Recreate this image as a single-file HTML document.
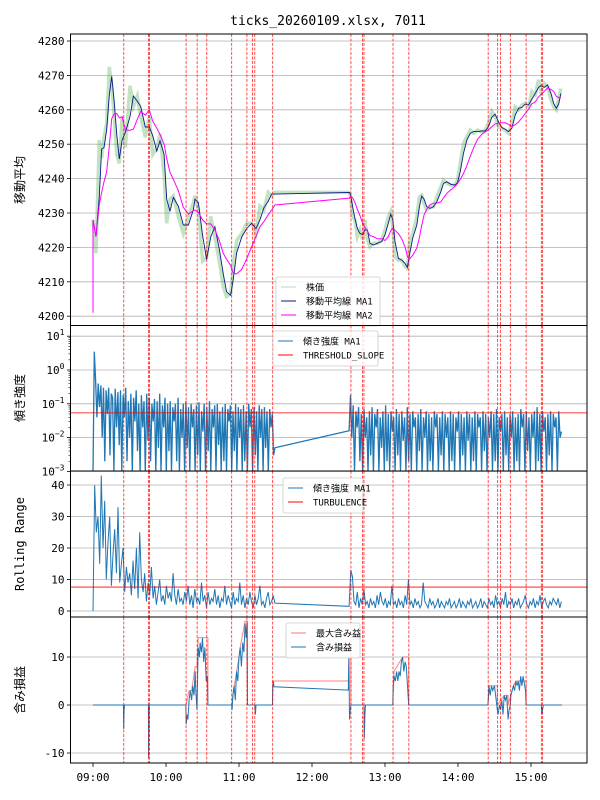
<!DOCTYPE html>
<html><head><meta charset="utf-8"><style>
body{margin:0;background:#fff;}
svg{display:block;font-family:"DejaVu Sans Mono","Liberation Mono","Noto Sans CJK JP",monospace;}
</style></head><body>
<svg id="chart" width="600" height="800" xmlns="http://www.w3.org/2000/svg"></svg>
<script>
// ---------- data ----------
const priceTimes=[0,2.5,5.2,7.1,9.0,11.2,13.4,15.4,17.3,19.5,21.6,23.9,26.6,30.4,33.2,36.4,39.2,43.0,46.3,49.1,52.4,55.1,58.4,60.6,63.3,66.0,70.1,74.2,78.4,82.5,83.8,86.6,90.1,93.4,96.7,100.2,103.8,107.1,109.8,113.1,115.3,118.1,122.2,126.3,130.4,134.0,137.2,140.5,144.1,146.8,149.5,
210.7,211.7,213.4,215.3,217.2,219.4,221.6,223.5,225.5,227.7,230.4,233.7,237.3,240.0,242.7,244.7,246.3,248.2,251.0,253.7,256.5,258.4,260.0,262.8,266.1,268.3,270.2,272.1,274.3,277.1,279.8,282.6,285.9,288.1,290.8,294.1,297.6,299.6,301.8,304.5,307.3,310.0,312.8,316.0,319.6,322.3,325.1,327.8,330.5,333.3,336.0,338.8,341.5,344.3,347.0,349.8,352.5,355.2,358.0,360.7,363.5,366.2,368.1,370.9,373.6,376.4,378.6,380.8,382.7,384.6];
const priceValues=[4228,4218.3,4251.2,4246,4252,4256,4272.5,4267,4259,4247,4244.4,4258,4249,4267,4261,4264,4258,4252,4258,4247,4249,4253,4241,4227,4234,4235,4229,4224,4229,4233,4235,4231,4216,4217,4229,4223,4216,4208.5,4205.7,4206.5,4215,4222,4224,4227,4227,4224,4232,4231,4236,4235,4236,
4236,4234.7,4228.9,4228,4223.1,4225.1,4222.2,4228,4222.2,4220.2,4221.2,4221.2,4222.2,4225.1,4228.9,4230.4,4226,4217.3,4216.3,4216.3,4214.4,4213.9,4221.2,4224.1,4228.9,4234.7,4235.2,4232.8,4230.9,4231.8,4231.8,4234.7,4237.6,4239.6,4238.6,4238.1,4238.1,4239.6,4244.4,4250.3,4252.2,4254.1,4253.2,4254.1,4253.6,4254.1,4256.1,4259.5,4258,4255.1,4254.6,4254.1,4253.2,4256.1,4260.9,4260,4261.4,4261.9,4260.9,4265.3,4264.3,4268.7,4265.3,4267.7,4266.7,4262.9,4260.9,4260,4263.3,4266.2];
const priceTicks=[4200,4210,4220,4230,4240,4250,4260,4270,4280];
const signalTimes=[25.3,45.6,46.5,76.5,85.6,93.5,114,126.5,131,133,147.7,212,221.5,222.7,246.6,259.6,324.8,332.6,335,343,356,368.5,369.4];
const slopeAM=[0.001,3.5,0.5,0.04,0.4,0.08,0.35,0.01,0.3,0.002,0.25,0.05,0.3,0.003,0.2,0.15,0.001,0.28,0.02,0.22,0.006,0.25,0.001,0.18,0.04,0.3,0.002,0.12,0.01,0.2,0.001,0.15,0.03,0.25,0.004,0.1,0.001,0.18,0.02,0.12,0.001,0.2,0.008,0.15,0.002,0.1,0.03,0.14,0.001,0.12,0.005,0.2,0.001,0.09,0.02,0.15,0.001,0.1,0.004,0.12,0.001,0.08,0.03,0.1,0.002,0.15,0.001,0.07,0.01,0.1,0.001,0.12,0.005,0.08,0.001,0.1,0.02,0.07,0.001,0.09,0.003,0.11,0.001,0.06,0.015,0.1,0.001,0.08,0.004,0.12,0.001,0.07,0.02,0.09,0.001,0.1,0.006,0.06,0.001,0.08,0.002,0.1,0.001,0.07,0.03,0.09,0.001,0.06,0.004,0.1,0.001,0.08,0.01,0.07,0.001,0.09,0.002,0.06,0.001,0.1,0.02,0.07,0.001,0.08,0.003,0.06,0.001,0.09,0.01,0.07,0.001,0.08,0.005,0.06,0.001,0.07,0.02,0.05,0.003,0.005];
const slopePM=[0.016,0.18,0.01,0.09,0.001,0.06,0.02,0.08,0.002,0.05,0.001,0.07,0.01,0.04,0.001,0.06,0.003,0.08,0.001,0.05,0.02,0.07,0.001,0.04,0.005,0.06,0.001,0.09,0.002,0.05,0.001,0.06,0.015,0.04,0.001,0.07,0.003,0.05,0.001,0.06,0.008,0.04,0.001,0.08,0.002,0.05,0.001,0.06,0.02,0.04,0.001,0.05,0.004,0.07,0.001,0.04,0.01,0.06,0.001,0.05,0.002,0.04,0.001,0.06,0.02,0.05,0.001,0.04,0.003,0.06,0.001,0.05,0.01,0.04,0.001,0.06,0.002,0.05,0.001,0.04,0.015,0.06,0.001,0.05,0.003,0.04,0.001,0.06,0.008,0.05,0.001,0.04,0.002,0.06,0.001,0.05,0.02,0.04,0.001,0.06,0.004,0.05,0.001,0.04,0.01,0.06,0.001,0.05,0.002,0.07,0.001,0.04,0.015,0.05,0.001,0.06,0.003,0.04,0.001,0.05,0.01,0.06,0.001,0.04,0.002,0.05,0.001,0.07,0.02,0.05,0.001,0.06,0.004,0.04,0.001,0.05,0.01,0.06,0.001,0.08,0.002,0.05,0.001,0.06,0.015,0.04,0.001,0.05,0.003,0.06,0.001,0.05,0.02,0.04,0.001,0.06,0.01,0.015];
const thresholdSlope=0.054;
const rangeAM=[0,40,25,30,15,43,20,35,10,22,30,8,18,26,12,33,9,15,20,6,14,9,12,5,16,7,20,4,25,10,6,12,3,9,5,14,4,8,2,6,10,3,5,2,8,4,6,3,12,5,2,7,3,4,2,6,3,8,2,5,1,7,3,4,2,9,3,5,1,6,2,4,3,7,2,5,1,4,3,8,2,5,3,1,6,2,4,3,9,2,5,1,4,2,6,3,1,5,2,4,8,2,3,1,4,6,2,3,5,2.5];
const rangePM=[1.5,13,11,3,2,6,1,4,2,7,2,3,1,4,2,3,1,5,2,6,3,2,4,1,3,2,8,2,3,1,4,2,3,1,5,2,10,2,3,1,4,2,3,1,2,9,3,2,1,4,2,3,1,2,4,1,3,2,1,3,2,4,1,2,3,1,2,4,1,3,2,1,3,2,4,1,2,3,1,2,4,1,3,2,1,4,2,3,1,5,2,3,1,4,2,6,1,3,2,4,1,3,2,4,1,2,3,5,2,1,3,2,4,1,3,2,5,1,3,4,2,1,3,2,4,3,2,4,1,3];
const turbulence=7.6;
const pnlT=[0,25,25.2,25.6,26,45.5,45.7,46,46.3,76.3,76.6,77.5,78,79,80,81,82,83,84,84.5,85.5,86,86.5,87.5,88,89,90,91,92,93,94,94.4,114,114.3,115,116,117,118,119,120,121,122,123,124,125,125.8,126.5,127,133,133.5,134,147.5,147.8,148.3,148.8,209.8,210.3,210.8,211.5,212,222.7,223,223.5,224,246.4,246.7,247.5,248.5,249.5,250.5,251.5,252.5,253.5,254.5,255.5,256.5,257.5,259.5,324.6,324.9,325.5,326.5,327.5,328.5,330,332.3,333,334,335,336,337,338,339,340,341.2,342,343,343.5,344.5,345.5,346.5,347.5,348.5,349.5,350.5,351.5,352.5,353.5,355.5,356,368.5,369,369.8,370.3,385.5];
const pnlV=[0,0,-5,-1,0,0,-11,-3,0,0,-4,-2,-3,1,3,1,4,2,7,3,-1,6,12,10,13,11,14,9,12,5,6,0,0,-1,2,4,1,7,5,10,12,8,13,11,17,14,17,0,0,-2,0,0,4,5,3.8,3.1,10,-3,-1,0,0,-7,-2,0,0,4,6,5,7,5,7,6,9,10,7,9,8,0,0,1,4,2,4,3,4,-1,-2,0,-1,1,-2,2,1,2,-3,-1,0,2,3,4,3,5,4,5,3,6,4,6,3,0,0,-2,-0.5,0,0];
const maxT=[0,76.5,79,81,84,85.5,86.5,94.4,94.4,114,115,118,120,121,125,127,127,147.5,147.8,209.8,210.3,212,212,246.4,247.5,254.5,259.5,259.5,324.6,325.5,332.3,332.3,338,341.2,341.2,343.5,345.5,347.5,356,356,385.5];
const maxV=[0,0,3,3,8,8,14,14,0,0,2,7,10,12,17.5,17.5,0,0,5,5,10,10,0,0,7,10,10,0,0,4,4,0,2,2,0,2,4,5,5,0,0];
const xTickLabels=["09:00","10:00","11:00","12:00","13:00","14:00","15:00"];

// ---------- helpers ----------
const NS="http://www.w3.org/2000/svg";
const svg=document.getElementById('chart');
function el(tag,attrs,parent){const e=document.createElementNS(NS,tag);for(const k in attrs)e.setAttribute(k,attrs[k]);(parent||svg).appendChild(e);return e;}
const X0=70.5,X1=587;
const xs=t=>93+t*73/60;
const P1={top:34,bot:325.5},P2={top:325.5,bot:471},P3={top:471,bot:617},P4={top:617,bot:763};
const y1=v=>41+(4280-v)*3.44;
const y2=v=>370-Math.log10(Math.max(v,1e-4))*33.8;
const y3=v=>611-v*3.15;
const y4=v=>705-v*4.8;
function lin(a,n0,n1){const r=[];for(let i=0;i<a;i++)r.push(n0+(n1-n0)*i/(a-1));return r;}
function path(xsA,ysA){return xsA.map((x,i)=>(i?'L':'M')+x.toFixed(1)+','+ysA[i].toFixed(1)).join('');}
function clip(id,p){const c=el('clipPath',{id:id});el('rect',{x:X0,y:p.top,width:X1-X0,height:p.bot-p.top},c);}

let t=el('text',{x:328,y:25,'text-anchor':'middle','font-size':13});t.textContent='ticks_20260109.xlsx, 7011';


[['c1',P1],['c2',P2],['c3',P3],['c4',P4]].forEach(([id,p])=>clip(id,p));

function grid(p,ticks,yf,labels,name){
  const g=el('g',{});
  
  ticks.forEach((v,i)=>{const y=yf(v);
    el('line',{x1:X0,x2:X1,y1:y,y2:y,stroke:'#b0b0b0','stroke-width':0.8},g);
    el('line',{x1:X0-3.5,x2:X0,y1:y,y2:y,stroke:'#000','stroke-width':0.8},g);
    const tx=el('text',{x:X0-6,y:y+4,'text-anchor':'end','font-size':11},g);
    if(labels)tx.innerHTML=labels[i];else tx.textContent=v;
  });
}
function vlines(p){
  signalTimes.forEach(s=>{const x=xs(s);
    const l=el('line',{x1:x,x2:x,y1:p.top,y2:p.bot,stroke:'#ff0000','stroke-width':0.8,'stroke-dasharray':'3,1.5',opacity:0.85},svg);
    
  });
}
function frame(p,name){const r=el('rect',{x:X0,y:p.top,width:X1-X0,height:p.bot-p.top,fill:'none',stroke:'#000','stroke-width':1});
  }
function ylabel(txt,y,name){const tx=el('text',{x:0,y:0,transform:`translate(24,${y}) rotate(-90)`,'text-anchor':'middle','font-size':12});tx.textContent=txt;
  }
function legend(x,y,w,items,name){const g=el('g',{});
  el('rect',{x:x,y:y,width:w,height:items.length*14+7,rx:2,fill:'#fff','fill-opacity':0.85,stroke:'#ccc','stroke-width':0.8},g);
  items.forEach((it,i)=>{const yy=y+10+i*14;el('line',{x1:x+5,x2:x+20,y1:yy,y2:yy,stroke:it[1],'stroke-width':1,opacity:it[2]||1},g);
    const tx=el('text',{x:x+30,y:yy+3.5,'font-size':9},g);tx.textContent=it[0];});}

// ---------- panel 1 ----------
grid(P1,priceTicks,y1,null,'price');
function ma(vals,w){return vals.map((v,i)=>{const s=vals.slice(Math.max(0,i-w+1),i+1);return s.reduce((a,b)=>a+b,0)/s.length;});}
const ma1=ma(priceValues,2), ma2=ma(priceValues,6);
const pxs=priceTimes.map(xs);
let g1=el('g',{'clip-path':'url(#c1)'});
let pe=el('path',{d:path(pxs,priceValues.map(y1)),fill:'none',stroke:'#4caf50','stroke-opacity':0.35,'stroke-width':3.5},g1);

pe=el('path',{d:path(pxs,ma1.map(y1)),fill:'none',stroke:'#0a1a8c','stroke-width':0.9},g1);

pe=el('path',{d:path([xs(0)].concat(pxs),[y1(4201)].concat(ma2.map(y1))),fill:'none',stroke:'#ff00ff','stroke-width':1},g1);

vlines(P1);frame(P1,'price-panel');
ylabel('移動平均',180,'price-y-title');
legend(276,277,104,[['株価','#4caf50',0.4],['移動平均線 MA1','#0a1a8c'],['移動平均線 MA2','#ff00ff']],'price-legend');

// ---------- panel 2 ----------
grid(P2,[10,1,0.1,0.01,0.001],y2,['10<tspan dy="-5" font-size="8">1</tspan>','10<tspan dy="-5" font-size="8">0</tspan>','10<tspan dy="-5" font-size="8">−1</tspan>','10<tspan dy="-5" font-size="8">−2</tspan>','10<tspan dy="-5" font-size="8">−3</tspan>'],'slope');
for(let d=-3;d<1;d++)for(let m=2;m<10;m++){const y=y2(m*Math.pow(10,d));el('line',{x1:X0-2,x2:X0,y1:y,y2:y,stroke:'#000','stroke-width':0.6});}
const sT=lin(slopeAM.length,0,149.5).concat(lin(slopePM.length,210.5,385));
const sV=slopeAM.concat(slopePM);
let g2=el('g',{'clip-path':'url(#c2)'});
pe=el('path',{d:path(sT.map(xs),sV.map(y2)),fill:'none',stroke:'#1f77b4','stroke-width':1.3},g2);

pe=el('line',{x1:X0,x2:X1,y1:y2(thresholdSlope),y2:y2(thresholdSlope),stroke:'#ff0000','stroke-width':0.8},g2);

vlines(P2);frame(P2,'slope-panel');
ylabel('傾き強度',398,'slope-y-title');
legend(273,331,105,[['傾き強度 MA1','#1f77b4'],['THRESHOLD_SLOPE','#ff0000']],'slope-legend');

// ---------- panel 3 ----------
grid(P3,[0,10,20,30,40],y3,null,'range');
const rT=lin(rangeAM.length,0,149.5).concat(lin(rangePM.length,210.5,385));
const rV=rangeAM.concat(rangePM);
let g3=el('g',{'clip-path':'url(#c3)'});
pe=el('path',{d:path(rT.map(xs),rV.map(y3)),fill:'none',stroke:'#1f77b4','stroke-width':1},g3);

pe=el('line',{x1:X0,x2:X1,y1:y3(turbulence),y2:y3(turbulence),stroke:'#ff0000','stroke-width':0.8},g3);

vlines(P3);frame(P3,'range-panel');
ylabel('Rolling Range',544,'range-y-title');
legend(283,478,80,[['傾き強度 MA1','#1f77b4'],['TURBULENCE','#ff0000']],'range-legend');

// ---------- panel 4 ----------
grid(P4,[-10,0,10],y4,null,'pnl');
let g4=el('g',{'clip-path':'url(#c4)'});
pe=el('path',{d:path(maxT.map(xs),maxV.map(y4)),fill:'none',stroke:'#ff5555','stroke-opacity':0.75,'stroke-width':1},g4);

pe=el('path',{d:path(pnlT.map(xs),pnlV.map(y4)),fill:'none',stroke:'#1f77b4','stroke-width':1},g4);

vlines(P4);frame(P4,'pnl-panel');
ylabel('含み損益',690,'pnl-y-title');
legend(286,623,74,[['最大含み益','#ff5555',0.8],['含み損益','#1f77b4']],'pnl-legend');

const xa=el('g',{});
xTickLabels.forEach((lb,i)=>{const x=xs(i*60);
  el('line',{x1:x,x2:x,y1:763,y2:767,stroke:'#000','stroke-width':0.8},xa);
  const tx=el('text',{x:x,y:781,'text-anchor':'middle','font-size':11},xa);tx.textContent=lb;});
</script>
</body></html>
